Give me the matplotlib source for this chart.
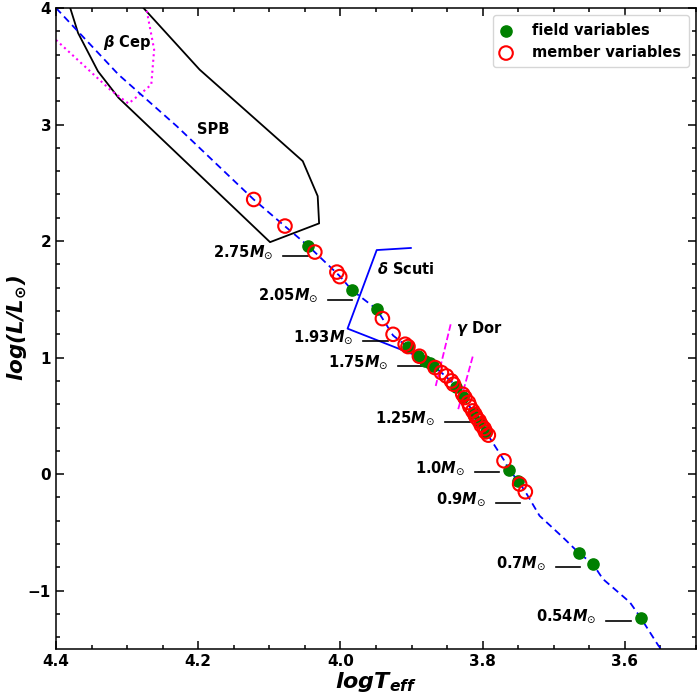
import matplotlib
matplotlib.use("Agg")
import matplotlib.pyplot as plt
from matplotlib.ticker import MultipleLocator

plt.rcParams['mathtext.fontset'] = 'dejavusans'

# ZAMS track (blue dashed)
zams_logt = [4.40, 4.312, 4.230, 4.122, 4.078, 4.045, 4.001, 3.984, 3.949, 3.926, 3.905,
             3.889, 3.867, 3.841, 3.828, 3.815, 3.800, 3.792, 3.770, 3.763, 3.750, 3.740,
             3.720, 3.687, 3.664, 3.645, 3.631, 3.593, 3.578, 3.553, 3.549]
zams_logl = [4.00, 3.428, 2.985, 2.357, 2.127, 1.957, 1.700, 1.580, 1.415, 1.190, 1.090,
             1.010, 0.920, 0.780, 0.670, 0.550, 0.420, 0.330, 0.120, 0.040, -0.060, -0.150,
             -0.357, -0.543, -0.680, -0.770, -0.899, -1.099, -1.230, -1.470, -1.500]

# field variables (green filled)
field_logt = [4.045, 3.984, 3.949, 3.905, 3.891, 3.881, 3.874, 3.870, 3.837, 3.828,
              3.814, 3.804, 3.795, 3.763, 3.750, 3.664, 3.645, 3.578]
field_logl = [1.957, 1.580, 1.415, 1.087, 1.015, 0.972, 0.952, 0.929, 0.744, 0.658,
              0.524, 0.446, 0.358, 0.039, -0.056, -0.679, -0.767, -1.230]

# member variables (red open)
member_logt = [4.122, 4.078, 4.036, 4.005, 4.001, 3.941, 3.926, 3.909, 3.905, 3.889,
               3.867, 3.858, 3.851, 3.844, 3.841, 3.828, 3.825, 3.820, 3.818, 3.814,
               3.811, 3.809, 3.805, 3.802, 3.798, 3.796, 3.792, 3.770, 3.748, 3.740]
member_logl = [2.357, 2.129, 1.906, 1.734, 1.695, 1.335, 1.200, 1.115, 1.095, 1.012,
               0.915, 0.872, 0.843, 0.800, 0.772, 0.686, 0.658, 0.615, 0.581, 0.543,
               0.514, 0.487, 0.458, 0.421, 0.392, 0.363, 0.335, 0.115, -0.085, -0.151]

# instability strips
bcep_logt = [4.400, 4.324, 4.298, 4.277, 4.266, 4.262, 4.270, 4.273]
bcep_logl = [3.726, 3.300, 3.180, 3.285, 3.343, 3.643, 3.900, 4.000]

spb_logt = [4.380, 4.369, 4.341, 4.312, 4.099, 4.030, 4.032, 4.053, 4.198, 4.277]
spb_logl = [4.000, 3.786, 3.457, 3.229, 1.991, 2.152, 2.386, 2.686, 3.471, 4.000]

dsct_logt = [3.901, 3.949, 3.990, 3.898]
dsct_logl = [1.941, 1.923, 1.249, 1.029]

gdor1_logt = [3.845, 3.866]
gdor1_logl = [1.286, 0.757]
gdor2_logt = [3.814, 3.835]
gdor2_logl = [1.009, 0.543]

# mass markers
mass_labels = ["2.75", "2.05", "1.93", "1.75", "1.25", "1.0", "0.9", "0.7", "0.54"]
mass_y = [1.872, 1.498, 1.143, 0.929, 0.444, 0.017, -0.248, -0.798, -1.258]
mass_x0 = [4.081, 4.018, 3.968, 3.919, 3.853, 3.811, 3.781, 3.697, 3.626]
mass_x1 = [4.046, 3.984, 3.933, 3.886, 3.818, 3.777, 3.747, 3.663, 3.591]

fig = plt.figure(figsize=(6.99, 6.97), dpi=100)
ax = fig.add_axes([56/699, 48/697, 640/699, 641/697])

ax.plot(spb_logt, spb_logl, color='black', lw=1.3)
ax.plot(bcep_logt, bcep_logl, color='magenta', lw=1.5, ls=':')
ax.plot(dsct_logt, dsct_logl, color='blue', lw=1.3)
ax.plot(gdor1_logt, gdor1_logl, color='magenta', lw=1.3, ls='--')
ax.plot(gdor2_logt, gdor2_logl, color='magenta', lw=1.3, ls='--')
ax.plot(zams_logt, zams_logl, color='blue', lw=1.3, ls=(0, (4, 2.5)))

for lab, y, x0, x1 in zip(mass_labels, mass_y, mass_x0, mass_x1):
    ax.plot([x0, x1], [y, y], color='black', lw=1.2)
    ax.annotate(lab + r"$\mathbfit{M}_{\odot}$", xy=(x0, y), xytext=(-7, 0),
                textcoords='offset points', ha='right', va='baseline',
                fontsize=10.5, fontweight='bold')

ax.scatter(field_logt, field_logl, s=65, color='green', zorder=3, label='field variables')
ax.scatter(member_logt, member_logl, s=95, facecolors='none', edgecolors='red',
           linewidths=1.5, zorder=4, label='member variables')

ax.text(4.30, 3.70, r"$\mathbfit{\beta}$ Cep", fontsize=10.5, fontweight='bold',
        ha='center', va='center')
ax.text(4.179, 2.957, "SPB", fontsize=10.5, fontweight='bold', ha='center', va='center')
ax.text(3.949, 1.76, r"$\mathbfit{\delta}$ Scuti", fontsize=10.5, fontweight='bold',
        ha='left', va='center')
ax.text(3.837, 1.249, r"$\mathbfit{\gamma}$ Dor", fontsize=10.5, fontweight='bold',
        ha='left', va='center')

ax.set_xlim(4.4, 3.5)
ax.set_ylim(-1.5, 4.0)
ax.xaxis.set_major_locator(MultipleLocator(0.2))
ax.xaxis.set_minor_locator(MultipleLocator(0.05))
ax.yaxis.set_major_locator(MultipleLocator(1))
ax.yaxis.set_minor_locator(MultipleLocator(0.2))
ax.tick_params(which='both', direction='in', top=True, right=True, labelsize=11, width=1.1)
ax.tick_params(which='major', length=6)
ax.tick_params(which='minor', length=3)
for lbl in ax.get_xticklabels() + ax.get_yticklabels():
    lbl.set_fontweight('bold')
for sp in ax.spines.values():
    sp.set_linewidth(1.1)

ax.set_xlabel(r"$\mathbfit{logT_{eff}}$", fontsize=16)
ax.set_ylabel(r"$\mathbfit{log(L/L_{\odot})}$", fontsize=15.5)
ax.xaxis.set_label_coords(0.5, -0.033)
ax.yaxis.set_label_coords(-0.042, 0.5)

leg = ax.legend(loc='upper right', prop={'weight': 'bold', 'size': 10.5},
                handlelength=0.8, handletextpad=1.4, borderpad=0.5, framealpha=0.8)

fig.savefig("out.png", dpi=100)
